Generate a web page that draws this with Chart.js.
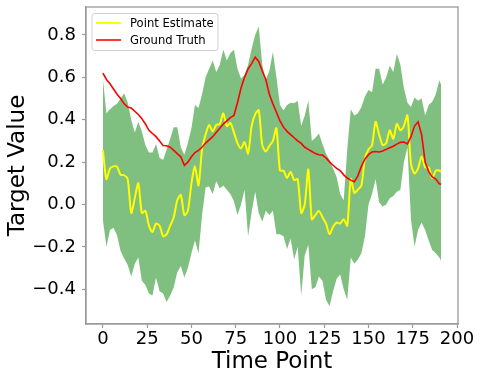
<!DOCTYPE html>
<html>
<head>
<meta charset="utf-8">
<script src="https://cdn.jsdelivr.net/npm/chart.js@4.4.1/dist/chart.umd.min.js"></script>
<style>
  html, body { margin: 0; padding: 0; background: #fff; overflow: hidden; }
  #wrap { width: 482px; height: 382px; }
</style>
</head>
<body>
<div id="wrap"><canvas id="myChart" width="482" height="382"></canvas></div>
<script>
// time points (x)
const timePoints = [
  0, 2, 4, 6, 8, 10, 12, 14, 16, 18, 20, 22, 24, 26, 28, 30, 32, 34, 36, 38,
  40, 42, 44, 46, 48, 50, 52, 54, 56, 58, 60, 62, 64, 66, 68, 70, 72, 74, 76, 78,
  80, 82, 84, 86, 88, 90, 92, 94, 96, 98, 100, 102, 104, 106, 108, 110, 112, 114, 116, 118,
  120, 122, 124, 126, 128, 130, 132, 134, 136, 138, 140, 142, 144, 146, 148, 150, 152, 154, 156, 158,
  160, 162, 164, 166, 168, 170, 172, 174, 176, 178, 180, 182, 184, 186, 188, 190, 191,
];

const pointEstimate = [
  0.256, 0.12, 0.17, 0.18, 0.178, 0.14, 0.138, 0.12, -0.04, 0.03, 0.1, -0.04, -0.03, -0.1, -0.13, -0.09, -0.1, -0.15, -0.14, -0.1,
  -0.06, 0.02, 0.045, -0.05, -0.03, 0.1, 0.18, 0.09, 0.26, 0.33, 0.375, 0.345, 0.375, 0.38, 0.43, 0.37, 0.385, 0.34, 0.29, 0.265,
  0.295, 0.24, 0.37, 0.425, 0.445, 0.28, 0.25, 0.276, 0.3, 0.36, 0.16, 0.16, 0.125, 0.154, 0.115, 0.12, -0.04, 0.0, 0.165, -0.07,
  -0.05, -0.03, -0.06, -0.09, -0.14, -0.105, -0.085, -0.09, -0.07, -0.1, 0.12, 0.055, 0.07, 0.09, 0.22, 0.26, 0.28, 0.39, 0.33, 0.28,
  0.29, 0.35, 0.31, 0.38, 0.35, 0.37, 0.42, 0.19, 0.146, 0.17, 0.227, 0.175, 0.175, 0.125, 0.16, 0.16, 0.155,
];

const groundTruth = [
  0.62, 0.59, 0.57, 0.545, 0.52, 0.5, 0.475, 0.46, 0.455, 0.44, 0.425, 0.405, 0.38, 0.35, 0.335, 0.32, 0.3, 0.278, 0.277, 0.27,
  0.255, 0.24, 0.225, 0.185, 0.2, 0.225, 0.245, 0.255, 0.27, 0.29, 0.305, 0.32, 0.34, 0.36, 0.38, 0.395, 0.41, 0.42, 0.48, 0.55,
  0.6, 0.64, 0.665, 0.695, 0.675, 0.63, 0.59, 0.52, 0.475, 0.435, 0.395, 0.365, 0.345, 0.33, 0.315, 0.3, 0.288, 0.27, 0.26, 0.25,
  0.24, 0.235, 0.233, 0.22, 0.201, 0.185, 0.17, 0.16, 0.14, 0.125, 0.115, 0.107, 0.135, 0.18, 0.215, 0.235, 0.248, 0.25, 0.248, 0.252,
  0.26, 0.268, 0.275, 0.285, 0.293, 0.295, 0.286, 0.32, 0.37, 0.39, 0.33, 0.2, 0.155, 0.13, 0.12, 0.098, 0.095,
];

// confidence band
const upperBound = [
  0.59, 0.43, 0.45, 0.465, 0.475, 0.5, 0.525, 0.48, 0.4, 0.34, 0.39, 0.345, 0.28, 0.245, 0.245, 0.285, 0.22, 0.21, 0.26, 0.31,
  0.365, 0.365, 0.27, 0.235, 0.29, 0.36, 0.47, 0.455, 0.52, 0.6, 0.64, 0.68, 0.625, 0.66, 0.73, 0.68, 0.715, 0.73, 0.64, 0.595,
  0.61, 0.66, 0.735, 0.8, 0.84, 0.66, 0.59, 0.63, 0.72, 0.6, 0.47, 0.445, 0.47, 0.48, 0.478, 0.49, 0.37, 0.42, 0.49, 0.3,
  0.315, 0.335, 0.285, 0.24, 0.21, 0.17, 0.13, 0.05, 0.02, 0.26, 0.45, 0.42, 0.43, 0.46, 0.51, 0.54, 0.53, 0.64, 0.64, 0.565,
  0.6, 0.655, 0.625, 0.71, 0.66, 0.55, 0.48, 0.46, 0.505, 0.49, 0.5, 0.42, 0.47, 0.485, 0.52, 0.586, 0.565,
];

const lowerBound = [
  -0.074, -0.2, -0.12, -0.11, -0.145, -0.22, -0.255, -0.285, -0.34, -0.28, -0.25, -0.36, -0.38, -0.42, -0.43, -0.345, -0.41, -0.42, -0.46, -0.43,
  -0.39, -0.32, -0.29, -0.345, -0.3, -0.23, -0.17, -0.23, -0.05, 0.08, 0.085, 0.05, 0.11, 0.075, 0.09, 0.07, 0.05, 0.015, -0.05, 0.0,
  0.07, -0.15, -0.035, 0.06, -0.04, -0.08, -0.03, -0.05, -0.03, -0.14, -0.14, -0.15, -0.21, -0.16, -0.26, -0.2, -0.43, -0.24, -0.19, -0.4,
  -0.39, -0.34, -0.36, -0.45, -0.48, -0.41, -0.35, -0.33, -0.4, -0.45, -0.25, -0.28, -0.26, -0.23, -0.15, 0.0, 0.05, 0.12, 0.01, -0.01,
  0.0, 0.03, 0.04, 0.06, 0.07, 0.2, 0.27, -0.07, -0.2, -0.12, -0.085, -0.12, -0.17, -0.215, -0.23, -0.25, -0.265,
];

const xTicks = [0, 25, 50, 75, 100, 125, 150, 175, 200];
const yTicks = [-0.4, -0.2, 0.0, 0.2, 0.4, 0.6, 0.8];

const toPoints = (ys) => timePoints.map((t, i) => ({ x: t, y: ys[i] }));
const FONT = 'DejaVu Sans';
const SPINE = '#9a9a9a';

// top/right spines + matplotlib-like legend box
const framePlugin = {
  id: 'frame',
  afterDatasetsDraw(chart) {
    const { ctx, chartArea: a } = chart;
    ctx.save();
    ctx.strokeStyle = SPINE;
    ctx.lineWidth = 1.3;
    ctx.strokeRect(a.left, a.top, a.right - a.left, a.bottom - a.top);
    ctx.restore();
  },
  afterDraw(chart) {
    const { ctx } = chart;
    const items = chart.data.datasets.filter((d) => d.inLegend);
    const x = 92, y = 13.5, w = 126, h = 37, r = 3;
    ctx.save();
    ctx.beginPath();
    ctx.moveTo(x + r, y);
    ctx.arcTo(x + w, y, x + w, y + h, r);
    ctx.arcTo(x + w, y + h, x, y + h, r);
    ctx.arcTo(x, y + h, x, y, r);
    ctx.arcTo(x, y, x + w, y, r);
    ctx.closePath();
    ctx.fillStyle = 'rgba(255,255,255,0.8)';
    ctx.fill();
    ctx.strokeStyle = '#d0d0d0';
    ctx.lineWidth = 1;
    ctx.stroke();
    ctx.font = '11.6px "' + FONT + '"';
    ctx.textBaseline = 'middle';
    items.forEach((d, i) => {
      const cy = 23 + i * 17;
      ctx.strokeStyle = d.borderColor;
      ctx.lineWidth = d.borderWidth;
      ctx.beginPath();
      ctx.moveTo(96, cy);
      ctx.lineTo(121, cy);
      ctx.stroke();
      ctx.fillStyle = '#000';
      ctx.fillText(d.label, 130, cy + 0.5);
    });
    ctx.restore();
  },
};

const chart1 = document.getElementById('myChart').getContext('2d');

const myChart = new Chart(chart1, {
  type: 'line',
  data: {
    datasets: [
      {
        label: 'Point Estimate',
        inLegend: true,
        data: toPoints(pointEstimate),
        borderColor: '#ffff00',
        borderWidth: 2,
        pointRadius: 0,
        tension: 0.25,
        fill: false,
        order: 1,
      },
      {
        label: 'Ground Truth',
        inLegend: true,
        data: toPoints(groundTruth),
        borderColor: '#ff0000',
        borderWidth: 1.6,
        pointRadius: 0,
        tension: 0,
        fill: false,
        order: 0,
      },
      {
        label: 'upper',
        data: toPoints(upperBound),
        borderWidth: 0,
        borderColor: 'rgba(0,0,0,0)',
        backgroundColor: 'rgba(0,128,0,0.5)',
        pointRadius: 0,
        tension: 0,
        fill: '+1',
        order: 2,
      },
      {
        label: 'lower',
        data: toPoints(lowerBound),
        borderWidth: 0,
        borderColor: 'rgba(0,0,0,0)',
        pointRadius: 0,
        tension: 0,
        fill: false,
        order: 3,
      },
    ],
  },
  options: {
    responsive: false,
    animation: false,
    devicePixelRatio: 1,
    layout: {
      padding: { top: 7, right: 24, left: 0, bottom: 0 },
    },
    plugins: {
      legend: { display: false },
      tooltip: { enabled: false },
    },
    scales: {
      x: {
        type: 'linear',
        min: -9.55,
        max: 200.55,
        afterBuildTicks: (s) => {
          s.ticks = xTicks.map((v) => ({ value: v }));
        },
        afterFit: (s) => {
          s.height = 58;
          s.paddingLeft = 0;
          s.paddingRight = 0;
        },
        ticks: {
          autoSkip: false,
          maxRotation: 0,
          padding: 1,
          color: '#000',
          font: { family: FONT, size: 18 },
          callback: (v) => String(v),
        },
        grid: {
          drawOnChartArea: false,
          tickLength: 4,
          tickColor: SPINE,
          tickWidth: 1.2,
        },
        border: { color: SPINE, width: 1.3 },
        title: {
          display: true,
          text: 'Time Point',
          color: '#000',
          font: { family: FONT, size: 23 },
          padding: { top: 0, bottom: 6 },
        },
      },
      y: {
        min: -0.564,
        max: 0.932,
        afterBuildTicks: (s) => {
          s.ticks = yTicks.map((v) => ({ value: v }));
        },
        afterFit: (s) => {
          s.width = 86;
          s.paddingTop = 0;
          s.paddingBottom = 0;
        },
        ticks: {
          autoSkip: false,
          padding: 6,
          color: '#000',
          font: { family: FONT, size: 18 },
          callback: (v) => (v < -1e-9 ? '\u2212' + Math.abs(v).toFixed(1) : Math.abs(v).toFixed(1)),
        },
        grid: {
          drawOnChartArea: false,
          tickLength: 4,
          tickColor: SPINE,
          tickWidth: 1.2,
        },
        border: { color: SPINE, width: 1.3 },
        title: {
          display: true,
          text: 'Target Value',
          color: '#000',
          font: { family: FONT, size: 23 },
          padding: { top: 4, bottom: 0 },
        },
      },
    },
  },
  plugins: [framePlugin],
});
</script>
</body>
</html>
